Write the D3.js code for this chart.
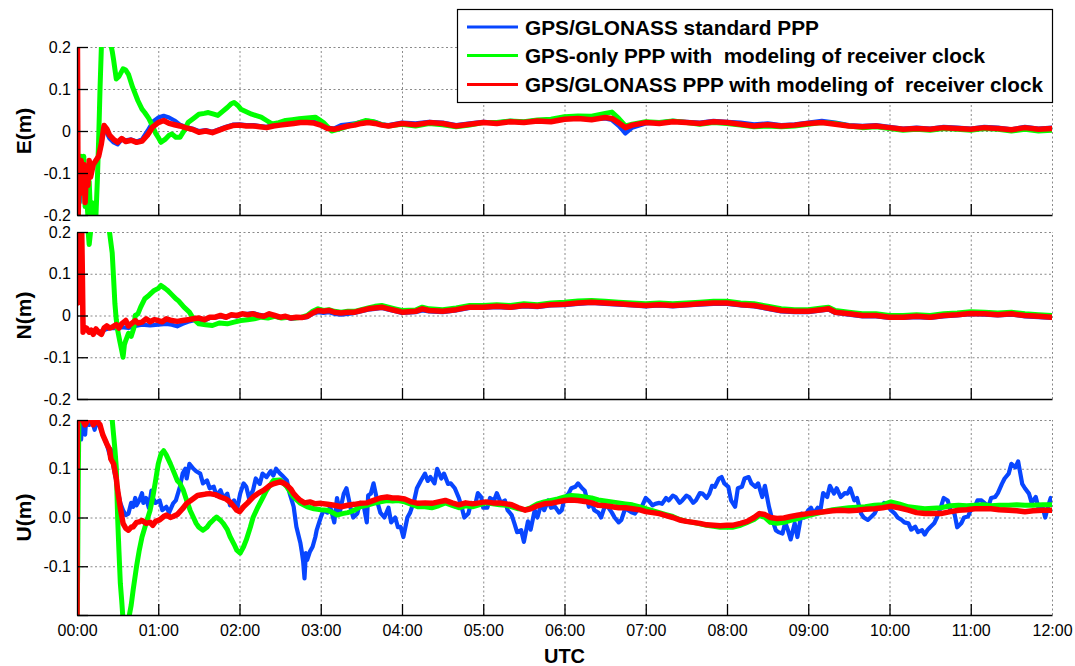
<!DOCTYPE html>
<html><head><meta charset="utf-8">
<script src="https://cdn.jsdelivr.net/npm/d3@7"></script>
<style>
body{margin:0;background:#fff;}
svg{font-family:"Liberation Sans",Arial,Helvetica,sans-serif;}
</style></head>
<body><svg id="c" width="1075" height="666"></svg>
<script>
// ---------- data (time in minutes after 00:00 UTC, value in metres) ----------
const seriesNames = ["GPS/GLONASS standard PPP", "GPS-only PPP with  modeling of receiver clock", "GPS/GLONASS PPP with modeling of  receiver clock"];
const seriesColors = ["#0846ff", "#00ff00", "#ff0000"];
const panelLabels = ["E(m)", "N(m)", "U(m)"];
const hourTicks = [0,60,120,180,240,300,360,420,480,540,600,660,720];
const hourLabels = ["00:00","01:00","02:00","03:00","04:00","05:00","06:00","07:00","08:00","09:00","10:00","11:00","12:00"];
const yTicks = [-0.2,-0.1,0,0.1,0.2];
const yLabelsEN = ["-0.2","-0.1","0","0.1","0.2"];
const yLabelsU = ["","-0.1","0.0","0.1","0.2"];

const E_blue = [[0,-0.22],[0.3,0.1],[0.8,-0.18],[1.5,-0.1],[2,-0.17],[3,-0.08],[4,-0.12],[5,-0.09],[6,-0.15],[7,-0.1],[8,-0.12],[10,-0.1],[12,-0.08],[14,-0.07],[16,-0.06],[18,-0.03],[20,0.008],[22,-0.005],[24,-0.018],[27,-0.027],[30,-0.032],[33,-0.02],[36,-0.022],[40,-0.02],[44,-0.025],[48,-0.02],[52,0.0],[56,0.022],[60,0.032],[64,0.036],[68,0.032],[72,0.025],[76,0.015],[80,0.01],[85,0.006],[90,0.0],[95,0.002],[100,-0.002],[105,0.004],[110,0.01],[115,0.015],[120,0.016],[125,0.014],[130,0.014],[135,0.012],[140,0.01],[145,0.014],[150,0.018],[155,0.02],[160,0.024],[165,0.026],[170,0.024],[175,0.022],[180,0.016],[185,0.008],[190,0.006],[195,0.014],[200,0.016],[205,0.018],[210,0.022],[215,0.024],[220,0.022],[225,0.016],[230,0.014],[240,0.02],[250,0.018],[260,0.022],[270,0.02],[280,0.014],[290,0.018],[300,0.022],[310,0.02],[320,0.024],[330,0.022],[340,0.026],[350,0.024],[360,0.03],[370,0.032],[380,0.028],[390,0.03],[395,0.026],[400,0.012],[405,-0.006],[410,0.008],[420,0.018],[430,0.02],[440,0.024],[450,0.022],[460,0.02],[470,0.024],[480,0.022],[490,0.02],[500,0.016],[510,0.018],[520,0.014],[530,0.016],[540,0.02],[550,0.024],[560,0.02],[570,0.014],[580,0.012],[590,0.014],[600,0.01],[610,0.006],[620,0.008],[630,0.006],[640,0.01],[650,0.008],[660,0.006],[670,0.01],[680,0.008],[690,0.004],[700,0.01],[710,0.006],[720,0.008]];
const E_green = [[0,0.05],[0.5,-0.15],[1,-0.2],[2,-0.1],[3,-0.06],[4,-0.13],[5,-0.06],[6,-0.18],[7,-0.15],[8,-0.2],[9,-0.12],[10,-0.2],[11,-0.17],[12,-0.21],[14,-0.2],[15,-0.12],[16,-0.02],[17,0.1],[18,0.2],[19,0.22],[22,0.25],[24,0.22],[26,0.19],[27,0.17],[29,0.124],[31,0.13],[34,0.148],[36,0.145],[38,0.135],[41,0.105],[45,0.072],[48,0.052],[50,0.044],[53,0.03],[55,0.017],[58,-0.005],[60,-0.015],[62,-0.027],[65,-0.02],[68,-0.01],[70,-0.007],[73,-0.015],[76,-0.015],[79,0.0],[82,0.02],[86,0.03],[90,0.04],[94,0.042],[97,0.044],[101,0.04],[104,0.037],[108,0.048],[111,0.056],[114,0.065],[116,0.068],[119,0.06],[121,0.052],[125,0.046],[129,0.04],[133,0.036],[136,0.033],[140,0.025],[144,0.017],[149,0.02],[154,0.025],[159,0.027],[164,0.029],[170,0.031],[176,0.033],[182,0.02],[188,0.0],[194,0.005],[201,0.012],[207,0.018],[213,0.025],[219,0.022],[225,0.015],[230,0.012],[240,0.016],[250,0.012],[260,0.018],[270,0.015],[280,0.01],[290,0.014],[300,0.02],[310,0.02],[320,0.024],[330,0.022],[340,0.026],[350,0.028],[360,0.034],[370,0.036],[380,0.035],[390,0.042],[395,0.045],[400,0.03],[405,0.012],[410,0.016],[420,0.022],[430,0.02],[440,0.024],[450,0.02],[460,0.016],[470,0.02],[480,0.018],[490,0.014],[500,0.01],[510,0.012],[520,0.01],[530,0.012],[540,0.016],[550,0.02],[560,0.018],[570,0.012],[580,0.008],[590,0.01],[600,0.006],[610,0.002],[620,0.004],[630,0.002],[640,0.006],[650,0.004],[660,0.002],[670,0.006],[680,0.004],[690,0.0],[700,0.004],[710,0.0],[720,0.002]];
const E_red = [[0,-0.22],[0.3,0.22],[0.8,-0.2],[1.5,-0.1],[2,-0.15],[3,-0.07],[4,-0.12],[5,-0.08],[6,-0.17],[7,-0.09],[8,-0.13],[9,-0.07],[10,-0.11],[12,-0.08],[14,-0.07],[16,-0.06],[18,-0.03],[20,0.013],[22,0.005],[24,-0.01],[27,-0.02],[30,-0.027],[33,-0.018],[36,-0.025],[40,-0.022],[44,-0.027],[48,-0.024],[52,-0.01],[56,0.01],[60,0.02],[64,0.025],[68,0.018],[72,0.015],[76,0.012],[80,0.008],[85,0.004],[90,-0.003],[95,0.0],[100,-0.004],[105,0.002],[110,0.008],[115,0.013],[120,0.014],[125,0.012],[130,0.012],[135,0.01],[140,0.008],[145,0.012],[150,0.014],[155,0.016],[160,0.018],[165,0.02],[170,0.02],[175,0.019],[180,0.014],[185,0.006],[190,0.004],[195,0.008],[200,0.012],[205,0.014],[210,0.018],[215,0.02],[220,0.018],[225,0.014],[230,0.012],[240,0.018],[250,0.015],[260,0.02],[270,0.018],[280,0.012],[290,0.016],[300,0.02],[310,0.018],[320,0.022],[330,0.02],[340,0.024],[350,0.022],[360,0.028],[370,0.03],[380,0.027],[390,0.032],[395,0.03],[400,0.02],[405,0.008],[410,0.014],[420,0.02],[430,0.018],[440,0.022],[450,0.02],[460,0.018],[470,0.022],[480,0.02],[490,0.016],[500,0.012],[510,0.015],[520,0.012],[530,0.014],[540,0.018],[550,0.02],[560,0.016],[570,0.012],[580,0.01],[590,0.012],[600,0.008],[610,0.004],[620,0.006],[630,0.004],[640,0.008],[650,0.006],[660,0.004],[670,0.008],[680,0.006],[690,0.003],[700,0.008],[710,0.004],[720,0.006]];

const N_blue = [[0,0.2],[0.5,0.05],[1,0.15],[2,0.03],[3,0.1],[4,0.08],[4.5,-0.03],[5,-0.03],[7,-0.035],[9,-0.04],[12,-0.04],[16,-0.04],[20,-0.035],[24,-0.03],[29,-0.03],[33,-0.028],[38,-0.03],[43,-0.025],[48,-0.022],[54,-0.024],[60,-0.022],[66,-0.02],[70,-0.022],[74,-0.026],[78,-0.02],[82,-0.015],[86,-0.012],[90,-0.01],[94,-0.012],[98,-0.006],[102,-0.005],[106,-0.002],[110,-0.005],[114,0.0],[118,-0.002],[122,0.004],[126,0.004],[130,0.006],[134,0.002],[138,0.0],[142,0.002],[146,-0.002],[150,-0.006],[154,-0.004],[158,-0.008],[162,-0.006],[166,-0.006],[170,-0.004],[174,0.004],[178,0.008],[182,0.006],[186,0.008],[190,0.004],[195,0.002],[200,0.004],[205,0.006],[210,0.01],[215,0.014],[220,0.016],[225,0.018],[230,0.014],[235,0.01],[240,0.006],[250,0.008],[255,0.012],[260,0.01],[270,0.008],[280,0.012],[290,0.018],[300,0.018],[310,0.02],[320,0.018],[330,0.022],[340,0.02],[350,0.024],[360,0.025],[370,0.028],[380,0.03],[390,0.028],[400,0.026],[410,0.024],[420,0.022],[430,0.024],[440,0.022],[450,0.024],[460,0.026],[470,0.028],[480,0.028],[490,0.024],[500,0.022],[510,0.016],[520,0.01],[530,0.008],[540,0.008],[550,0.012],[555,0.014],[560,0.006],[570,0.002],[580,-0.002],[590,-0.002],[600,-0.006],[610,-0.006],[620,-0.004],[630,-0.006],[640,-0.002],[650,0.0],[660,0.003],[670,0.002],[680,0.0],[690,0.002],[700,-0.002],[710,-0.004],[720,-0.006]];
const N_green = [[0,0.22],[0.5,0.2],[1,0.25],[4,0.22],[7,0.25],[9,0.17],[10,0.2],[12,0.25],[20,0.25],[23,0.22],[24,0.2],[26,0.15],[27,0.09],[28,0.028],[29,-0.01],[30,-0.035],[31.5,-0.06],[33,-0.083],[34,-0.1],[35,-0.07],[36,-0.06],[38,-0.043],[40,-0.05],[42,-0.03],[43,0.0],[45,0.004],[47,0.02],[50,0.04],[53,0.048],[57,0.06],[60,0.065],[62,0.072],[65,0.065],[67,0.06],[70,0.05],[73,0.04],[75,0.035],[79,0.02],[83,0.008],[86,-0.008],[90,-0.02],[95,-0.022],[100,-0.024],[105,-0.018],[111,-0.02],[116,-0.016],[121,-0.012],[126,-0.01],[131,-0.008],[136,-0.004],[141,-0.006],[146,-0.002],[151,-0.006],[156,-0.004],[161,-0.006],[166,-0.004],[170,0.0],[174,0.01],[178,0.016],[182,0.012],[186,0.014],[190,0.01],[195,0.008],[200,0.01],[205,0.01],[210,0.014],[215,0.018],[220,0.022],[225,0.024],[230,0.02],[235,0.016],[240,0.012],[250,0.013],[255,0.02],[260,0.016],[270,0.014],[280,0.018],[290,0.024],[300,0.024],[310,0.026],[320,0.024],[330,0.028],[340,0.026],[350,0.03],[360,0.032],[370,0.035],[380,0.036],[390,0.034],[400,0.032],[410,0.03],[420,0.028],[430,0.03],[440,0.028],[450,0.03],[460,0.032],[470,0.034],[480,0.034],[490,0.03],[500,0.028],[510,0.022],[520,0.016],[530,0.014],[540,0.014],[550,0.018],[555,0.02],[560,0.012],[570,0.008],[580,0.004],[590,0.004],[600,0.0],[610,0.0],[620,0.002],[630,0.0],[640,0.004],[650,0.006],[660,0.009],[670,0.008],[680,0.006],[690,0.008],[700,0.004],[710,0.002],[720,0.0]];
const N_red = [[0,0.22],[0.5,0.03],[1,0.2],[2,0.05],[3,0.15],[3.5,0.2],[4,0.09],[4.5,-0.04],[5,-0.028],[7,-0.03],[9,-0.04],[10.5,-0.035],[12,-0.045],[14,-0.032],[16,-0.04],[18,-0.045],[20,-0.03],[22,-0.025],[24,-0.03],[26,-0.028],[29,-0.022],[31,-0.03],[33,-0.02],[36,-0.012],[38,-0.025],[40,-0.02],[43,-0.012],[45,-0.018],[48,-0.016],[51,-0.008],[54,-0.015],[57,-0.01],[60,-0.012],[63,-0.015],[66,-0.008],[70,-0.012],[74,-0.014],[78,-0.012],[82,-0.01],[86,-0.008],[90,-0.006],[94,-0.01],[98,-0.004],[102,-0.004],[106,0.0],[110,-0.004],[114,0.002],[118,0.0],[122,0.004],[126,0.002],[130,0.004],[134,0.0],[138,-0.002],[142,0.004],[146,0.0],[150,-0.004],[154,-0.002],[158,-0.006],[162,-0.004],[166,-0.005],[170,-0.002],[174,0.006],[178,0.012],[182,0.01],[186,0.012],[190,0.008],[195,0.006],[200,0.008],[205,0.008],[210,0.012],[215,0.016],[220,0.018],[225,0.02],[230,0.016],[235,0.012],[240,0.008],[250,0.01],[255,0.016],[260,0.012],[270,0.01],[280,0.014],[290,0.02],[300,0.02],[310,0.022],[320,0.02],[330,0.024],[340,0.022],[350,0.026],[360,0.027],[370,0.03],[380,0.032],[390,0.03],[400,0.028],[410,0.026],[420,0.024],[430,0.026],[440,0.024],[450,0.026],[460,0.028],[470,0.03],[480,0.03],[490,0.026],[500,0.024],[510,0.018],[520,0.012],[530,0.01],[540,0.01],[550,0.014],[555,0.016],[560,0.008],[570,0.004],[580,0.0],[590,0.0],[600,-0.004],[610,-0.004],[620,-0.002],[630,-0.004],[640,0.0],[650,0.002],[660,0.005],[670,0.004],[680,0.002],[690,0.004],[700,0.0],[710,-0.002],[720,-0.004]];

const U_blue = [[0,-0.22],[0.3,0.2],[1,0.18],[2,0.21],[3,0.16],[4,0.2],[6,0.17],[7,0.21],[9,0.19],[11,0.2],[13,0.18],[15,0.2],[17,0.185],[19,0.17],[22,0.15],[24,0.13],[25,0.14],[27,0.103],[29,0.075],[30,0.056],[32,0.03],[34,0.015],[36,0.005],[38,0.008],[40,0.03],[41.5,0.022],[43,0.04],[44,0.025],[46,0.035],[48,0.05],[49,0.03],[51,0.04],[53,0.02],[55,0.055],[56,0.04],[58,0.03],[61,0.035],[63,0.015],[66,0.022],[68,0.01],[71,0.029],[73,0.035],[76,0.063],[78,0.09],[80,0.1],[81,0.08],[83,0.11],[86,0.1],[88,0.095],[91,0.09],[93,0.07],[96,0.076],[98,0.06],[101,0.063],[103,0.045],[106,0.056],[108,0.04],[111,0.049],[113,0.025],[116,0.035],[118,0.015],[120.5,0.049],[123,0.07],[125,0.063],[127,0.04],[130,0.056],[132,0.08],[135,0.069],[137,0.09],[140,0.083],[143,0.095],[145,0.086],[147,0.1],[150,0.09],[152,0.085],[155,0.076],[157,0.05],[160,0.022],[162,-0.019],[165,-0.053],[166,-0.07],[167,-0.09],[168,-0.125],[169,-0.073],[170,-0.087],[172,-0.07],[174,-0.06],[176,-0.04],[177,-0.026],[180,0.0],[182,0.015],[185,0.01],[187,0.022],[190,-0.01],[192,0.04],[194,0.01],[197,0.049],[199,0.06],[202,0.02],[204,0.0],[207,0.008],[209,0.03],[212,0.02],[214,-0.01],[215,0.045],[217,0.049],[219,0.07],[222,0.03],[224,0.01],[227,0.0],[230,0.02],[232,-0.01],[235,0.0],[237,-0.02],[239,-0.019],[241,-0.04],[244,0.0],[246,0.01],[249,0.035],[251,0.06],[254,0.076],[257,0.09],[259,0.075],[261,0.083],[264,0.07],[266,0.1],[269,0.08],[271,0.09],[274,0.069],[276,0.07],[279,0.06],[282,0.04],[284,0.022],[286,0.0],[289,0.008],[291,0.03],[294,0.025],[296,0.05],[298.5,0.042],[300,0.02],[303,0.02],[305,0.04],[308,0.035],[310,0.05],[313,0.03],[316,0.035],[318,0.015],[321,0.005],[323,-0.012],[325,-0.03],[328,-0.026],[330,-0.05],[333,-0.008],[335,-0.025],[338,0.015],[340,0.0],[343,0.03],[345,0.015],[348,0.035],[350,0.02],[353,0.022],[356,0.01],[358,0.015],[360,0.04],[363,0.049],[365,0.06],[368,0.063],[370,0.07],[373,0.06],[375,0.055],[378,0.022],[380,0.03],[382,0.015],[385,0.01],[387,0.0],[390,0.025],[392,0.022],[395,0.01],[397,0.0],[400,-0.01],[402,-0.005],[405,0.02],[407,0.015],[410,0.01],[412,0.008],[415,0.02],[417,0.022],[420,0.04],[422,0.035],[425,0.025],[427,0.028],[430,0.03],[432,0.028],[435,0.04],[437,0.035],[440,0.045],[442,0.042],[445,0.03],[447,0.035],[450,0.045],[452,0.042],[455,0.03],[457,0.035],[460,0.05],[462,0.049],[465,0.04],[467,0.049],[469,0.065],[471,0.063],[474,0.08],[476,0.083],[478,0.07],[481,0.063],[483,0.035],[486,0.022],[488,0.06],[491,0.063],[493,0.08],[496,0.083],[498,0.07],[501,0.063],[503,0.07],[506,0.042],[508,0.065],[511,0.022],[513,0.0],[516,-0.026],[518,-0.03],[521,-0.033],[523,-0.01],[525,-0.026],[527,-0.045],[530,-0.012],[532,-0.04],[535,0.008],[537,0.0],[540,0.015],[542,0.02],[544,0.008],[547,0.02],[549,0.015],[551,0.05],[554,0.042],[556,0.065],[559,0.049],[561,0.06],[564,0.042],[567,0.05],[569,0.049],[571,0.06],[574,0.035],[576,0.04],[579,0.008],[581,0.0],[584,-0.005],[586,0.0],[589,0.008],[591,0.02],[594,0.022],[596,0.03],[599,0.022],[601,0.015],[604,0.008],[606,0.0],[609,-0.005],[611,-0.01],[614,-0.012],[616,-0.025],[619,-0.019],[621,-0.03],[624,-0.026],[626,-0.035],[628,-0.026],[630,-0.02],[633,-0.012],[635,0.0],[638,0.022],[640,0.04],[643,0.035],[645,0.015],[648,0.008],[650,-0.02],[653,-0.012],[655,0.0],[658,0.002],[660,0.015],[663,0.022],[665,0.035],[668,0.035],[670,0.03],[673,0.022],[675,0.04],[678,0.042],[680,0.05],[683,0.069],[685,0.08],[688,0.09],[690,0.11],[693,0.103],[695,0.115],[698,0.069],[700,0.06],[703,0.049],[705,0.03],[708,0.042],[710,0.02],[713,0.022],[715,0.0],[717,0.022],[719,0.04],[720,0.035]];
const U_green = [[0,-0.25],[0.5,-0.1],[1,0.1],[1.5,0.22],[3,0.2],[8,0.2],[14,0.21],[20,0.22],[24,0.22],[26,0.2],[27,0.17],[28,0.14],[29,0.103],[30,0.0],[31,-0.07],[32,-0.135],[33,-0.17],[34,-0.21],[36,-0.22],[38,-0.21],[40,-0.18],[41.5,-0.148],[44,-0.1],[46,-0.067],[48,-0.04],[51,-0.012],[54,0.015],[56,0.042],[58,0.075],[60,0.11],[62,0.13],[64,0.137],[66,0.128],[69,0.11],[72,0.09],[74,0.076],[76,0.07],[78.5,0.056],[81,0.035],[83.5,0.015],[86,0.0],[88,-0.012],[90,-0.02],[93,-0.026],[96,-0.02],[98,-0.012],[101,-0.004],[103,0.001],[106,-0.006],[108,-0.012],[111,-0.025],[113,-0.039],[116,-0.055],[118,-0.067],[120.5,-0.073],[123,-0.06],[125,-0.046],[128,-0.02],[130,0.0],[133,0.018],[135,0.029],[138,0.045],[140,0.056],[143,0.068],[145,0.076],[150,0.077],[155,0.063],[158,0.05],[160,0.042],[163,0.034],[165,0.029],[170,0.022],[175,0.018],[180,0.016],[185,0.015],[190,0.008],[192,0.005],[196,0.008],[200,0.01],[205,0.015],[209,0.022],[214,0.025],[219,0.029],[224,0.032],[229,0.035],[233,0.034],[237,0.035],[242,0.032],[247,0.027],[252,0.022],[257,0.022],[262,0.02],[267,0.024],[272,0.03],[277,0.025],[282,0.02],[287,0.024],[292,0.022],[297,0.026],[302,0.03],[307,0.028],[312,0.026],[317,0.025],[321,0.022],[326,0.018],[331,0.016],[335,0.02],[340,0.028],[345,0.032],[350,0.035],[355,0.038],[360,0.042],[365,0.045],[370,0.044],[375,0.042],[380,0.04],[385,0.036],[390,0.034],[395,0.032],[400,0.03],[405,0.028],[410,0.026],[415,0.022],[420,0.018],[425,0.014],[430,0.01],[435,0.006],[440,0.002],[445,-0.004],[450,-0.008],[455,-0.01],[460,-0.013],[465,-0.016],[470,-0.018],[475,-0.02],[480,-0.02],[484,-0.02],[490,-0.016],[495,-0.01],[500,-0.004],[504,0.004],[508,0.0],[512,-0.01],[517,-0.012],[522,-0.01],[527,-0.006],[533,-0.002],[540,0.004],[546,0.008],[552,0.012],[558,0.016],[564,0.018],[570,0.02],[576,0.021],[582,0.022],[589,0.025],[595,0.026],[601,0.032],[607,0.028],[614,0.022],[620,0.02],[626,0.018],[632,0.019],[638,0.02],[645,0.024],[651,0.025],[657,0.024],[663,0.025],[669,0.026],[675,0.024],[681,0.025],[688,0.025],[694,0.026],[700,0.025],[706,0.025],[713,0.026],[720,0.026]];
const U_red = [[0,-0.22],[0.3,0.22],[1,0.2],[2,0.22],[4,0.2],[6,0.19],[8,0.2],[10,0.21],[12,0.19],[14,0.2],[17,0.19],[19,0.17],[22,0.151],[24,0.14],[25,0.12],[27,0.11],[29,0.08],[30,0.056],[32,0.02],[34,-0.012],[36,-0.022],[38,-0.026],[40,-0.02],[41.5,-0.019],[44,-0.01],[46,-0.009],[48,-0.006],[51,-0.012],[54,-0.01],[56,-0.016],[58,-0.008],[61,-0.005],[64,0.002],[66,0.005],[69,0.0],[71,0.002],[74,0.006],[76,0.012],[78,0.018],[81,0.029],[84,0.035],[86,0.039],[89,0.045],[91,0.046],[95,0.048],[98,0.049],[102,0.047],[106,0.042],[110,0.038],[113,0.032],[116,0.022],[118,0.015],[120,0.012],[123,0.022],[126,0.03],[130,0.042],[134,0.05],[138,0.056],[142,0.065],[145,0.069],[150,0.073],[153,0.07],[155,0.066],[158,0.058],[160,0.049],[163,0.04],[165,0.035],[168,0.03],[172,0.032],[176,0.028],[180,0.029],[185,0.027],[190,0.025],[195,0.022],[200,0.025],[205,0.027],[209,0.029],[214,0.03],[219,0.035],[224,0.04],[229,0.042],[233,0.04],[237,0.04],[242,0.038],[247,0.032],[252,0.029],[257,0.03],[262,0.029],[267,0.032],[272,0.035],[277,0.03],[282,0.026],[287,0.03],[292,0.028],[297,0.03],[302,0.032],[307,0.03],[312,0.03],[317,0.028],[321,0.026],[326,0.02],[331,0.015],[335,0.018],[340,0.024],[345,0.028],[350,0.029],[355,0.032],[360,0.035],[365,0.036],[370,0.035],[375,0.033],[380,0.03],[385,0.025],[390,0.024],[395,0.022],[400,0.02],[405,0.02],[410,0.018],[415,0.016],[420,0.012],[425,0.01],[430,0.008],[435,0.004],[440,0.0],[445,-0.005],[450,-0.008],[455,-0.01],[460,-0.012],[465,-0.015],[470,-0.016],[475,-0.017],[480,-0.016],[484,-0.016],[490,-0.012],[495,-0.008],[500,0.0],[504,0.008],[508,0.006],[512,0.0],[517,-0.002],[522,-0.001],[527,0.002],[533,0.005],[540,0.008],[546,0.01],[552,0.012],[558,0.014],[564,0.015],[570,0.014],[576,0.015],[582,0.017],[589,0.018],[595,0.02],[601,0.023],[607,0.02],[614,0.015],[620,0.01],[626,0.008],[632,0.008],[638,0.008],[645,0.012],[651,0.015],[657,0.016],[663,0.018],[669,0.018],[675,0.018],[681,0.016],[688,0.015],[694,0.014],[700,0.012],[706,0.014],[713,0.015],[720,0.015]];

// ---------- layout ----------
const svg = d3.select("#c");
const X0 = 77, X1 = 1052;
const panels = [
  {top: 47,  bottom: 215, label: panelLabels[0], ylab: yLabelsEN, data: [E_blue, E_green, E_red], xlabels: false},
  {top: 232, bottom: 399, label: panelLabels[1], ylab: yLabelsEN, data: [N_blue, N_green, N_red], xlabels: false},
  {top: 420, bottom: 615, label: panelLabels[2], ylab: yLabelsU,  data: [U_blue, U_green, U_red], xlabels: true}
];
const lineWidths = [4.2, 5, 5.5];
const x = d3.scaleLinear().domain([0, 720]).range([X0, X1]);

panels.forEach((p, i) => {
  const y = d3.scaleLinear().domain([-0.2, 0.2]).range([p.bottom, p.top]);
  const g = svg.append("g");
  const h = p.bottom - p.top, w = X1 - X0;

  // grid
  const gx = g.append("g").attr("transform", `translate(0,${p.bottom})`)
    .call(d3.axisBottom(x).tickValues(hourTicks.slice(1)).tickSize(-h).tickFormat(""));
  const gy = g.append("g").attr("transform", `translate(${X0},0)`)
    .call(d3.axisLeft(y).tickValues(yTicks.slice(1)).tickSize(-w).tickFormat(""));
  [gx, gy].forEach(a => {
    a.select(".domain").remove();
    a.selectAll("line").attr("stroke", "#8a8a8a").attr("stroke-width", 1).attr("stroke-dasharray", "2,2.5");
  });

  // clip
  svg.append("clipPath").attr("id", "clip" + i)
    .append("rect").attr("x", X0).attr("y", p.top).attr("width", w).attr("height", h);

  const line = d3.line().x(d => x(d[0])).y(d => y(d[1]));
  const lg = g.append("g").attr("clip-path", `url(#clip${i})`);
  p.data.forEach((s, k) => {
    lg.append("path").datum(s).attr("d", line).attr("fill", "none")
      .attr("stroke", seriesColors[k]).attr("stroke-width", lineWidths[k])
      .attr("stroke-linejoin", "round").attr("stroke-linecap", "round");
  });

  // axes
  const ax = g.append("g").attr("transform", `translate(0,${p.bottom})`)
    .call(d3.axisBottom(x).tickValues(hourTicks).tickSizeInner(-11).tickSizeOuter(0).tickPadding(10)
      .tickFormat((d, j) => p.xlabels ? hourLabels[j] : ""));
  const ay = g.append("g").attr("transform", `translate(${X0},0)`)
    .call(d3.axisLeft(y).tickValues(yTicks).tickSizeInner(-11).tickSizeOuter(0).tickPadding(6)
      .tickFormat((d, j) => p.ylab[j]));
  [ax, ay].forEach(a => {
    a.select(".domain").attr("stroke", "#000").attr("stroke-width", 1.3);
    a.selectAll(".tick line").attr("stroke", "#000").attr("stroke-width", 1.3);
    a.selectAll("text").attr("fill", "#000").style("font-size", "16px")
      .style("font-family", '"Liberation Sans",Arial,sans-serif');
  });
  ax.selectAll(".tick").filter(d => d === 0 || d === 720).select("line").remove();

  // panel label
  svg.append("text").attr("transform", `translate(31,${(p.top + p.bottom) / 2}) rotate(-90)`)
    .attr("text-anchor", "middle").style("font-size", "21px").style("font-weight", "bold").text(p.label);
});

// x axis title
svg.append("text").attr("x", (X0 + X1) / 2).attr("y", 663).attr("text-anchor", "middle")
  .style("font-size", "20px").style("font-weight", "bold").text("UTC");

// legend
const leg = svg.append("g");
leg.append("rect").attr("x", 457.5).attr("y", 9.5).attr("width", 595).attr("height", 93)
  .attr("fill", "#fff").attr("stroke", "#000").attr("stroke-width", 1.2);
const legY = [27, 55.5, 84.5];
const legW = [294, 460, 518];
seriesNames.forEach((n, k) => {
  leg.append("line").attr("x1", 467).attr("x2", 518).attr("y1", legY[k]).attr("y2", legY[k])
    .attr("stroke", seriesColors[k]).attr("stroke-width", 3);
  leg.append("text").attr("x", 525).attr("y", legY[k] + 7.5)
    .style("font-size", "20.5px").style("font-weight", "bold").style("white-space", "pre")
    .attr("textLength", legW[k]).attr("lengthAdjust", "spacingAndGlyphs").text(n);
});
</script></body></html>
